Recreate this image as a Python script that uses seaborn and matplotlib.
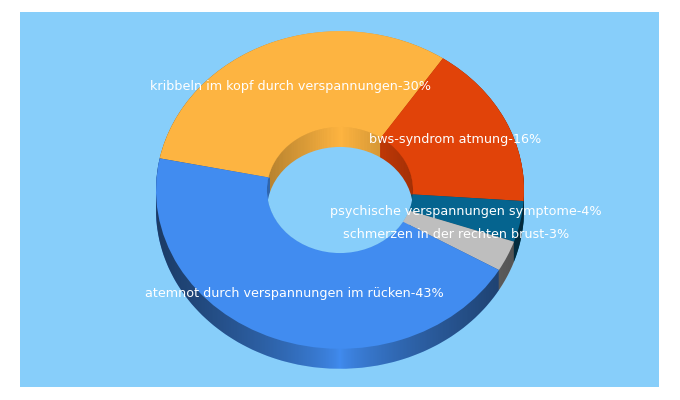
import numpy as np
import matplotlib
matplotlib.use("Agg")
import matplotlib.pyplot as plt
from matplotlib.path import Path
from matplotlib.patches import Ellipse
import seaborn as sns

labels = ["kribbeln im kopf durch verspannungen-30%",
          "bws-syndrom atmung-16%",
          "psychische verspannungen symptome-4%",
          "schmerzen in der rechten brust-3%",
          "atemnot durch verspannungen im rücken-43%"]
values = [30, 16, 4, 3, 43]
colors = ["#FDB441", "#E14309", "#05648F", "#BEBEBE", "#418CF0"]
bg = "#87CEFA"

sns.set_style("white")
palette = sns.color_palette(colors)

W, H = 680, 400
cx, cy, rx, ry = 340, 190.0, 184, 158.8
depth = 20 / ry
hole = 0.397
start = 168.5

fig = plt.figure(figsize=(W / 100, H / 100), dpi=100, facecolor="white")
ax = fig.add_axes([20 / W, 1 - 387 / H, 639 / W, 375 / H])
z = [2]


def donut(radius, center=(0, 0), width=None):
    wp = {"linewidth": 0}
    if width is not None:
        wp["width"] = width
    wedges, _ = ax.pie(values, colors=palette, startangle=start, counterclock=False,
                       radius=radius, center=center, wedgeprops=wp, normalize=True)
    z[0] += 1
    for w in wedges:
        w.set_zorder(z[0])


def shade(xmax, strength, power, clip):
    xs = np.linspace(-xmax, xmax, 400)
    a = strength * (np.abs(xs) / xmax) ** power
    rgba = np.zeros((1, 400, 4))
    rgba[0, :, 3] = a
    z[0] += 1
    im = ax.imshow(rgba, extent=(-xmax, xmax, -2, 2), aspect="auto", zorder=z[0],
                   interpolation="bilinear")
    im.set_clip_path(clip, ax.transData)


# outer wall
for off in np.linspace(depth, 0, 21):
    donut(1.0, center=(0, -off))
t = np.linspace(0, np.pi, 200)
hx = np.r_[np.cos(t), np.cos(t + np.pi)]
hy = np.r_[np.sin(t), np.sin(t + np.pi) - depth]
hull = Path(np.c_[hx, hy], closed=False)
shade(1.0, 0.58, 0.7, hull)

# inner wall (thin stacked rings; the top face covers what lies outside the hole)
hole_path = Path.circle((0, 0), hole)
for off in np.linspace(depth, 0, 41):
    donut(hole, center=(0, -off), width=0.008)
shade(hole, 0.28, 1.0, hole_path)

# top face
donut(1.0, width=1 - hole)

# see-through part of the hole
z[0] += 1
through = Ellipse((0, -depth), 2 * hole, 2 * hole, facecolor=bg, edgecolor="none", zorder=z[0])
ax.add_patch(through)
through.set_clip_path(hole_path, ax.transData)

ax.set_aspect("auto")
ax.set_xlim((20 - cx) / rx, (659 - cx) / rx)
ax.set_ylim((cy - 387) / ry, (cy - 12) / ry)
ax.set_frame_on(True)
ax.set_facecolor(bg)
for s in ax.spines.values():
    s.set_visible(False)
ax.set_xticks([])
ax.set_yticks([])

centers = [(290.5, 86.5), (455.5, 139.5), (466, 211), (456.5, 234.5), (294.5, 293.5)]
for lab, (px, py) in zip(labels, centers):
    ax.text((px - cx) / rx, (cy - py) / ry, lab, color="white", fontsize=9.15,
            family="DejaVu Sans", ha="center", va="center", zorder=100)

fig.savefig("out.png", dpi=100, facecolor="white")
